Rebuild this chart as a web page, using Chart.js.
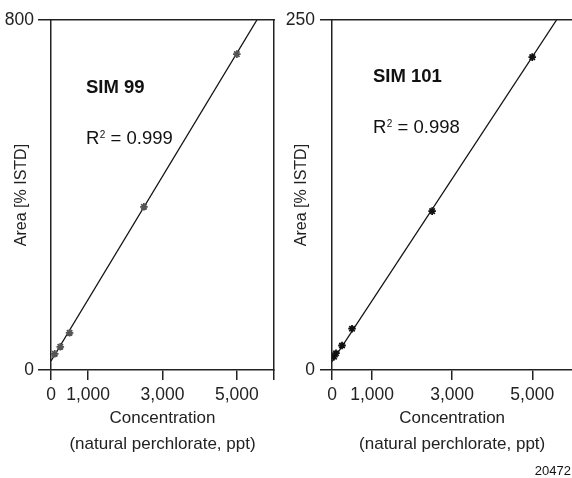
<!DOCTYPE html>
<html>
<head>
<meta charset="utf-8">
<script src="https://cdn.jsdelivr.net/npm/chart.js@4"></script>
<style>
  html, body { margin: 0; padding: 0; background: #fff; overflow: hidden; }
  body { width: 572px; height: 478px; position: relative; }
  canvas { position: absolute; top: 0; }
  #sim99 { left: 0; }
  #sim101 { left: 286px; }
</style>
</head>
<body>
<canvas id="sim99" width="286" height="478"></canvas>
<canvas id="sim101" width="300" height="478"></canvas>
<script>
// shared x axis
const xTicks = [0, 1000, 3000, 5000, 6000];
const xTickLabels = ["0", "1,000", "3,000", "5,000", ""];

// SIM 99
const sim99Conc = [100, 250, 500, 2500, 5000];
const sim99Area = [37, 53, 85, 373, 722];
const sim99FitConc = [0, 5540];
const sim99FitArea = [20.6, 800];
const sim99YTicks = [0, 800];

// SIM 101
const sim101Conc = [50, 100, 250, 500, 2500, 5000];
const sim101Area = [9.5, 12, 17.5, 29.5, 113.5, 223.5];
const sim101FitConc = [0, 5607];
const sim101FitArea = [5.9, 250];
const sim101YTicks = [0, 250];

const FONT = "'Liberation Sans', Arial, sans-serif";
Chart.defaults.font.family = FONT;
Chart.defaults.color = "#222";

const AXIS = "#222";

const notesPlugin = {
    id: "notes",
    afterDraw(chart, args, opts) {
        const ctx = chart.ctx;
        ctx.save();
        ctx.fillStyle = "#111";
        ctx.textAlign = "left";
        ctx.textBaseline = "alphabetic";
        ctx.font = "bold 18.5px " + FONT;
        ctx.fillText(opts.title, opts.x, opts.titleY);

        ctx.font = "18.5px " + FONT;
        ctx.fillText("R", opts.x, opts.r2Y);
        let w = ctx.measureText("R").width;
        ctx.font = "10px " + FONT;
        ctx.fillText("2", opts.x + w + 0.5, opts.r2Y - 6);
        w += ctx.measureText("2").width + 0.5;
        ctx.font = "18.5px " + FONT;
        ctx.fillText(" = " + opts.r2, opts.x + w, opts.r2Y);

        if (opts.code) {
            ctx.font = "13px " + FONT;
            ctx.textAlign = "right";
            ctx.fillText(opts.code, 285, 475);
        }
        ctx.restore();
    }
};

function makeChart(id, conc, area, fitConc, fitArea, yTicks, markColor, layout, notes) {
    const points = conc.map((c, i) => ({x: c, y: area[i]}));
    const fit = fitConc.map((c, i) => ({x: c, y: fitArea[i]}));

    return new Chart(document.getElementById(id), {
        type: "scatter",
        data: {
            datasets: [{
                data: points,
                pointStyle: "star",
                pointRadius: 3.8,
                borderWidth: 1.8,
                borderColor: markColor,
                backgroundColor: markColor,
                order: 0
            }, {
                type: "line",
                data: fit,
                borderColor: "#111",
                borderWidth: 1.3,
                pointRadius: 0,
                fill: false,
                order: 1
            }]
        },
        options: {
            responsive: false,
            animation: false,
            events: [],
            layout: { padding: { left: 0, top: 20, right: layout.right, bottom: 0 } },
            plugins: {
                legend: { display: false },
                tooltip: { enabled: false },
                notes: notes
            },
            scales: {
                x: {
                    type: "linear",
                    min: 0,
                    max: 6000,
                    afterBuildTicks: s => { s.ticks = xTicks.map(v => ({value: v})); },
                    afterFit: s => { s.height = 108; },
                    ticks: {
                        callback: (v, i) => xTickLabels[i],
                        font: { size: 17.5 },
                        padding: 5,
                        maxRotation: 0,
                        autoSkip: false
                    },
                    grid: { drawOnChartArea: false, tickLength: 10, color: AXIS, lineWidth: 1.5 },
                    border: { color: AXIS, width: 1.5 },
                    title: {
                        display: true,
                        text: ["Concentration", "(natural perchlorate, ppt)"],
                        font: { size: 17, lineHeight: "26px" },
                        padding: { top: 0, bottom: 21 }
                    }
                },
                y: {
                    type: "linear",
                    min: 0,
                    max: yTicks[yTicks.length - 1],
                    afterBuildTicks: s => { s.ticks = yTicks.map(v => ({value: v})); },
                    afterFit: s => { s.width = layout.yWidth; },
                    ticks: { font: { size: 17.5 }, padding: layout.tickPad },
                    grid: { drawOnChartArea: false, tickLength: layout.tickLen, color: AXIS, lineWidth: 1.5 },
                    border: { color: AXIS, width: 1.5 },
                    title: {
                        display: true,
                        text: "Area [% ISTD]",
                        font: { size: 16, lineHeight: 1.2 },
                        padding: { top: layout.titlePad, bottom: 0 }
                    }
                },
                x2: {
                    type: "linear",
                    position: "top",
                    afterFit: s => { s.height = 0; },
                    ticks: { display: false },
                    grid: { display: false },
                    border: { color: AXIS, width: 1.5 }
                },
                y2: {
                    type: "linear",
                    position: "right",
                    afterFit: s => { s.width = 0; },
                    ticks: { display: false },
                    grid: { display: false },
                    border: { color: AXIS, width: 1.5 }
                }
            }
        },
        plugins: [notesPlugin]
    });
}

makeChart("sim99", sim99Conc, sim99Area, sim99FitConc, sim99FitArea, sim99YTicks, "#555",
    { right: 12, yWidth: 51, tickLen: 13, tickPad: 4, titlePad: 12 },
    { title: "SIM 99", r2: "0.999", x: 86, titleY: 93, r2Y: 144 });

makeChart("sim101", sim101Conc, sim101Area, sim101FitConc, sim101FitArea, sim101YTicks, "#111",
    { right: 13.7, yWidth: 46, tickLen: 12, tickPad: 5, titlePad: 6 },
    { title: "SIM 101", r2: "0.998", x: 87, titleY: 82, r2Y: 133, code: "20472" });
</script>
</body>
</html>
